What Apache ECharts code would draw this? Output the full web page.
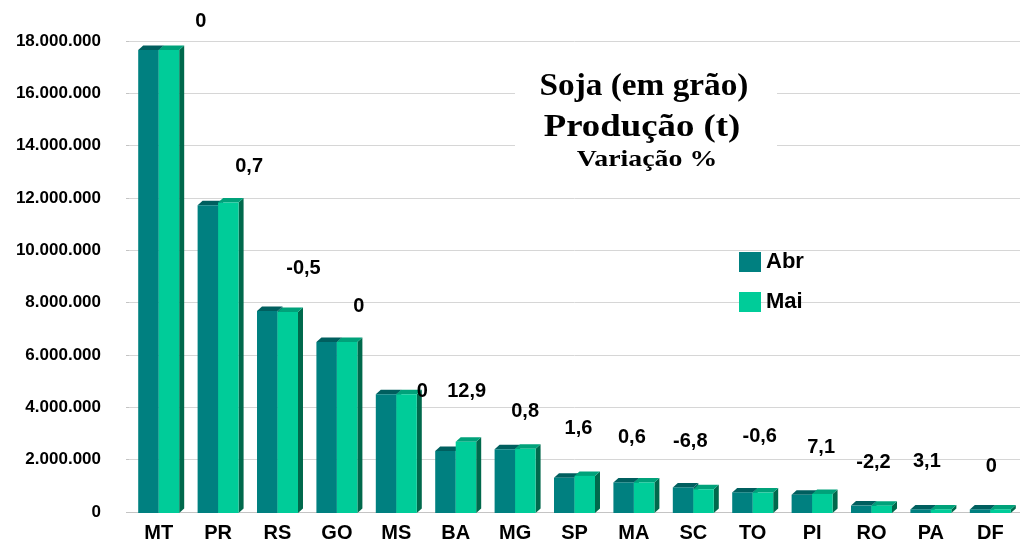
<!DOCTYPE html>
<html>
<head>
<meta charset="utf-8">
<script src="https://cdn.jsdelivr.net/npm/echarts@6/dist/echarts.min.js"></script>
<style>
  html, body { margin: 0; padding: 0; background: #fff; }
  #chart { width: 1020px; height: 543px; }
</style>
</head>
<body>
<div id="chart"></div>
<script>
// Soja (em grão) - produção (t) por UF, abril x maio
const categories = ['MT', 'PR', 'RS', 'GO', 'MS', 'BA', 'MG', 'SP', 'MA', 'SC', 'TO', 'PI', 'RO', 'PA', 'DF']
const abr = [17660000, 11720000, 7680000, 6500000, 4500000, 2330000, 2400000, 1310000, 1130000, 940000, 750000, 660000, 245000, 100000, 100000]
const mai = [17660000, 11830000, 7640000, 6500000, 4500000, 2680000, 2420000, 1380000, 1130000, 870000, 745000, 690000, 240000, 100000, 100000]
const variacao = ['0', '0,7', '-0,5', '0', '0', '12,9', '0,8', '1,6', '0,6', '-6,8', '-0,6', '7,1', '-2,2', '3,1', '0']
const yMin = 0
const yMax = 18000000
const yStep = 2000000

// where each variation label sits, in px from the category centre / bar top
const labelNudge = [
  [42, -28], [31, -36], [26, -43], [22, -35], [26, -3],
  [11, -50], [10, -37], [4, -47], [-2, -45], [-3, -46],
  [7, -56], [9, -46], [2, -43], [-4, -48], [1, -43],
]

const palette = [
  { front: '#008080', top: '#005f5f', side: '#006262' },
  { front: '#00cc99', top: '#00a27a', side: '#00694c' },
]
const depthX = 5
const depthY = 4.5

function fmtThousands(v) {
  return String(v).replace(/\B(?=(\d{3})+(?!\d))/g, '.')
}

function barRenderer(slot) {
  return function (params, api) {
    const idx = api.value(0)
    const top = api.coord([idx, api.value(1)])
    const base = api.coord([idx, 0])
    const band = api.size([1, 0])[0]
    const w = band * 0.345
    const x0 = top[0] - w + slot * w
    const y0 = top[1]
    const y1 = base[1] + 1
    const c = palette[slot]
    return {
      type: 'group',
      children: [
        {
          type: 'polygon',
          shape: { points: [[x0 + w, y0], [x0 + w + depthX, y0 - depthY], [x0 + w + depthX, y1 - depthY], [x0 + w, y1]] },
          style: { fill: c.side },
        },
        {
          type: 'polygon',
          shape: { points: [[x0, y0], [x0 + depthX, y0 - depthY], [x0 + w + depthX, y0 - depthY], [x0 + w, y0]] },
          style: { fill: c.top },
        },
        {
          type: 'rect',
          shape: { x: x0, y: y0, width: w, height: y1 - y0 },
          style: { fill: c.front },
        },
      ],
    }
  }
}

function labelRenderer(params, api) {
  const idx = api.value(0)
  const top = api.coord([idx, api.value(1)])
  const nudge = labelNudge[idx]
  return {
    type: 'text',
    x: top[0] + nudge[0],
    y: top[1] + nudge[1],
    style: {
      text: variacao[idx],
      font: 'bold 20px "Liberation Sans", Arial, sans-serif',
      fill: '#000',
      align: 'center',
      verticalAlign: 'middle',
    },
  }
}

const chart = echarts.init(document.getElementById('chart'), null, { renderer: 'canvas' })

const titleFont = '"Liberation Serif", "Times New Roman", serif'

chart.setOption({
  animation: false,
  backgroundColor: '#fff',
  grid: { left: 129, top: 41, width: 895, height: 472 },
  legend: {
    data: ['Abr', 'Mai'],
    orient: 'vertical',
    left: 739,
    top: 251,
    padding: 0,
    icon: 'rect',
    itemWidth: 22,
    itemHeight: 20,
    itemGap: 18,
    textStyle: { fontSize: 22, fontWeight: 'bold', color: '#000', fontFamily: '"Liberation Sans", Arial, sans-serif' },
  },
  graphic: [
    {
      type: 'rect', z: 50,
      shape: { x: 515, y: 64, width: 262, height: 112 },
      style: { fill: '#fff' },
    },
    {
      type: 'text', z: 51, x: 644, y: 87, scaleX: 1.04,
      style: { text: 'Soja (em grão)', font: 'bold 32px ' + titleFont, fill: '#000', align: 'center', verticalAlign: 'middle' },
    },
    {
      type: 'text', z: 51, x: 642, y: 128, scaleX: 1.15,
      style: { text: 'Produção (t)', font: 'bold 32px ' + titleFont, fill: '#000', align: 'center', verticalAlign: 'middle' },
    },
    {
      type: 'text', z: 51, x: 647, y: 160, scaleX: 1.16,
      style: { text: 'Variação %', font: 'bold 24px ' + titleFont, fill: '#000', align: 'center', verticalAlign: 'middle' },
    },
  ],
  xAxis: {
    type: 'category',
    data: categories,
    axisTick: { show: false },
    axisLine: { lineStyle: { color: '#c4c4c4' } },
    axisLabel: {
      margin: 11,
      fontSize: 20,
      fontWeight: 'bold',
      color: '#000',
      fontFamily: '"Liberation Sans", Arial, sans-serif',
    },
  },
  yAxis: {
    type: 'value',
    min: yMin,
    max: yMax,
    interval: yStep,
    axisLine: { show: false },
    axisTick: { show: true, length: 3, lineStyle: { color: '#c4c4c4' } },
    splitLine: { lineStyle: { color: '#d6d6d6' } },
    axisLabel: {
      margin: 28,
      fontSize: 17,
      fontWeight: 'bold',
      color: '#000',
      fontFamily: '"Liberation Sans", Arial, sans-serif',
      formatter: fmtThousands,
    },
  },
  series: [
    {
      name: 'Abr',
      type: 'custom',
      clip: false,
      itemStyle: { color: palette[0].front },
      renderItem: barRenderer(0),
      encode: { x: 0, y: 1 },
      data: categories.map((c, i) => [i, abr[i]]),
    },
    {
      name: 'Mai',
      type: 'custom',
      clip: false,
      itemStyle: { color: palette[1].front },
      renderItem: barRenderer(1),
      encode: { x: 0, y: 1 },
      data: categories.map((c, i) => [i, mai[i]]),
    },
    {
      name: 'variacao',
      type: 'custom',
      clip: false,
      silent: true,
      renderItem: labelRenderer,
      encode: { x: 0, y: 1 },
      data: categories.map((c, i) => [i, Math.max(abr[i], mai[i])]),
    },
  ],
})
</script>
</body>
</html>
